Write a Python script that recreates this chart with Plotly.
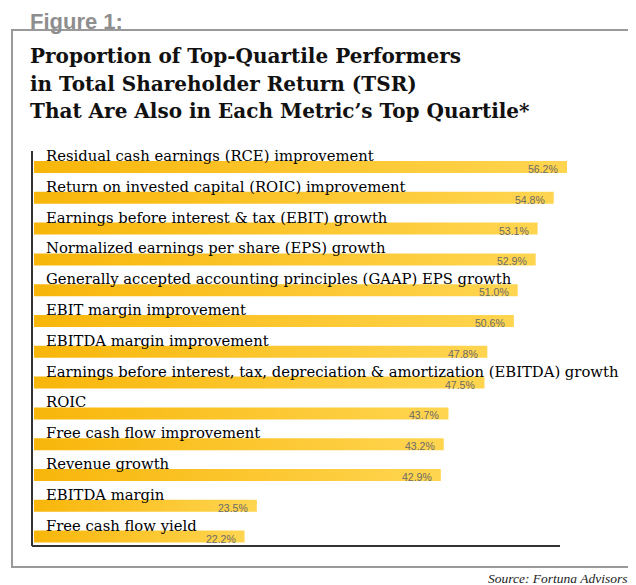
import plotly.graph_objects as go

# data
metrics = [
    "Residual cash earnings (RCE) improvement",
    "Return on invested capital (ROIC) improvement",
    "Earnings before interest & tax (EBIT) growth",
    "Normalized earnings per share (EPS) growth",
    "Generally accepted accounting principles (GAAP) EPS growth",
    "EBIT margin improvement",
    "EBITDA margin improvement",
    "Earnings before interest, tax, depreciation & amortization (EBITDA) growth",
    "ROIC",
    "Free cash flow improvement",
    "Revenue growth",
    "EBITDA margin",
    "Free cash flow yield",
]
values = [56.2, 54.8, 53.1, 52.9, 51.0, 50.6, 47.8, 47.5, 43.7, 43.2, 42.9, 23.5, 22.2]
value_labels = [f"{v:.1f}%" for v in values]

title_lines = [
    "Proportion of Top-Quartile Performers",
    "in Total Shareholder Return (TSR)",
    "That Are Also in Each Metric\u2019s Top Quartile*",
]
figure_label = "Figure 1:"
source = "Source: Fortuna Advisors"

# the page body has an 8px margin, so the figure is drawn 8px in from the corner
OFF = 8
W, H = 636 - OFF, 585 - OFF


def px(x):  # window pixel -> paper x
    return (x - OFF) / W


def py(y):  # window pixel -> paper y
    return 1 - (y - OFF) / H


bar_h = 0.39
fig = go.Figure()

for i, v in enumerate(values):
    lo, hi = i - bar_h / 2, i + bar_h / 2
    fig.add_trace(go.Scatter(
        x=[0, v, v, 0, 0],
        y=[lo, lo, hi, hi, lo],
        mode='lines',
        fill='toself',
        line=dict(width=0),
        fillgradient=dict(type='horizontal',
                          colorscale=[[0, '#F8B60A'], [1, '#FFD550']]),
        hoverinfo='skip',
        showlegend=False,
    ))

annotations = []
for i, (m, lab, v) in enumerate(zip(metrics, value_labels, values)):
    annotations.append(dict(
        x=0, y=i, xref='x', yref='y', text=m, showarrow=False,
        xanchor='left', yanchor='bottom', xshift=10, yshift=1,
        font=dict(family='DejaVu Serif', size=14.8, color='#000000'),
    ))
    annotations.append(dict(
        x=v, y=i, xref='x', yref='y', text=lab, showarrow=False,
        xanchor='right', yanchor='middle', xshift=-7, yshift=-2,
        font=dict(family='Liberation Sans', size=10.5, color='#6a6a6a'),
    ))

for k, line in enumerate(title_lines):
    annotations.append(dict(
        x=px(28), y=py(56 + 27.5 * k), xref='paper', yref='paper',
        text=line, showarrow=False, xanchor='left', yanchor='middle',
        font=dict(family='DejaVu Serif', size=20, color='#111111',
                  weight='bold'),
    ))

annotations.append(dict(
    x=px(28), y=py(21), xref='paper', yref='paper', text=figure_label,
    showarrow=False, xanchor='left', yanchor='middle',
    font=dict(family='Liberation Sans', size=22, color='#8e8e8e',
              weight='bold'),
))
annotations.append(dict(
    x=px(630), y=py(578), xref='paper', yref='paper', text=source,
    showarrow=False, xanchor='right', yanchor='middle',
    font=dict(family='Liberation Serif', size=13.5, color='#222222',
              style='italic'),
))

shapes = [
    # outer box
    dict(type='rect', xref='paper', yref='paper',
         x0=px(12), x1=px(630), y0=py(567), y1=py(30),
         line=dict(color='#9a9a9a', width=2)),
    # axis lines
    dict(type='line', xref='paper', yref='paper',
         x0=px(32), x1=px(32), y0=py(151), y1=py(546),
         line=dict(color='#333333', width=2)),
    dict(type='line', xref='paper', yref='paper',
         x0=px(32), x1=px(560), y0=py(546), y1=py(546),
         line=dict(color='#333333', width=2)),
]

x_scale = (567 - 34) / 56.2
pitch = 30.8
layout = go.Layout(
    width=W, height=H,
    margin=dict(l=0, r=0, t=0, b=0),
    paper_bgcolor='white', plot_bgcolor='white',
    xaxis=dict(domain=[px(34), px(630)], range=[0, (630 - 34) / x_scale],
               visible=False, fixedrange=True),
    yaxis=dict(domain=[py(546), py(136)],
               range=[(546 - 167) / pitch, (136 - 167) / pitch],
               visible=False, fixedrange=True),
    annotations=annotations,
    shapes=shapes,
    showlegend=False,
)

fig = go.Figure(data=fig.data, layout=layout)
fig.write_html("out.html")
